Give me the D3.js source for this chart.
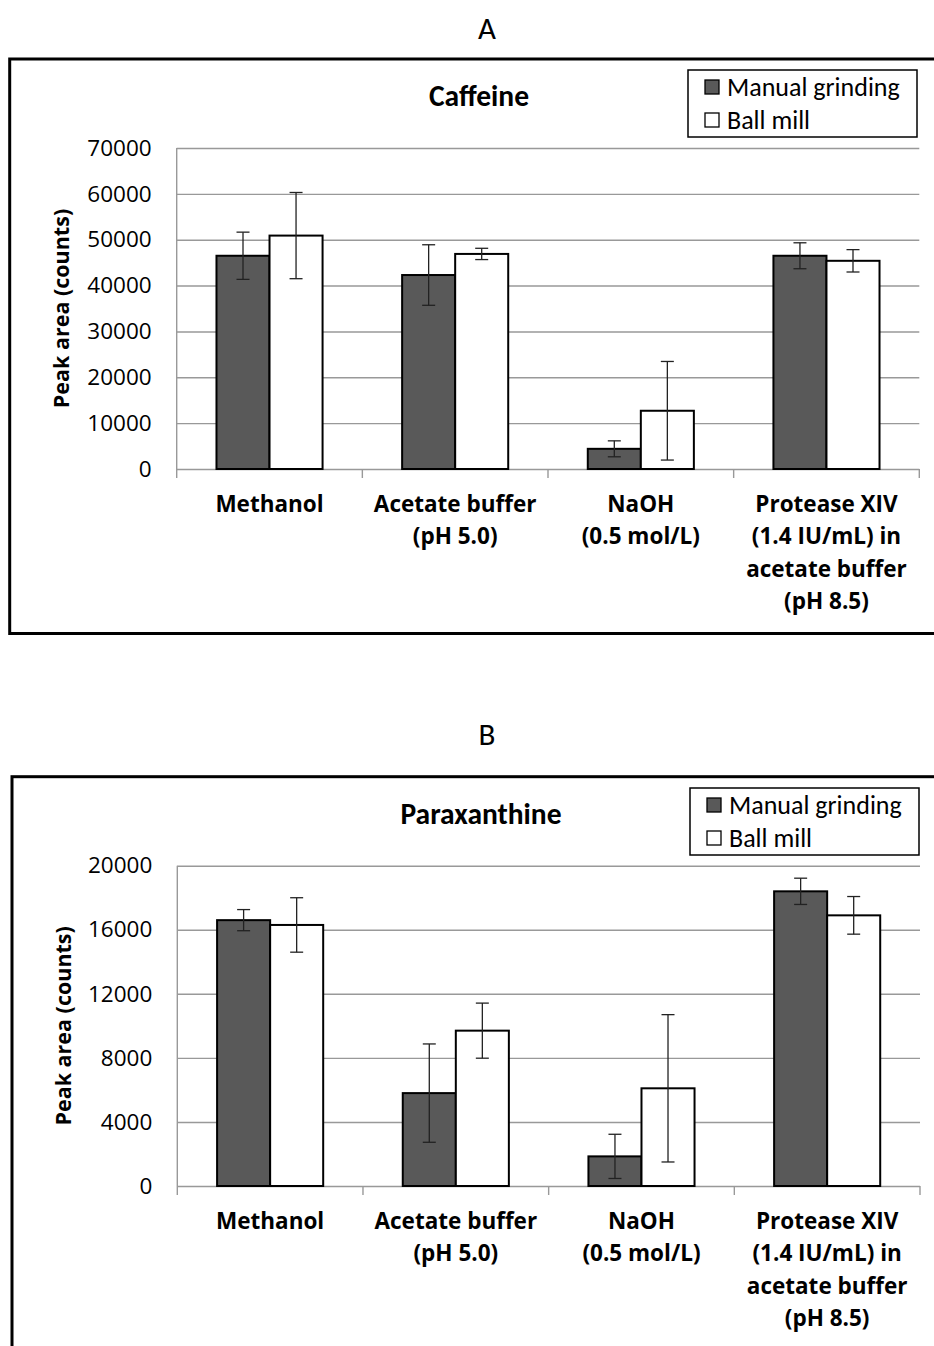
<!DOCTYPE html>
<html>
<head>
<meta charset="utf-8">
<script src="https://cdn.jsdelivr.net/npm/d3@7"></script>
<style>
  html, body { margin: 0; padding: 0; background: #fff; }
  svg { display: block; }
</style>
</head>
<body>
<svg id="fig" width="934" height="1346"></svg>
<script>
// Extraction conditions (x categories)
const categories = [
  "Methanol",
  "Acetate buffer (pH 5.0)",
  "NaOH (0.5 mol/L)",
  "Protease XIV (1.4 IU/mL) in acetate buffer (pH 8.5)"
];
const categoryLines = [
  ["Methanol"],
  ["Acetate buffer", "(pH 5.0)"],
  ["NaOH", "(0.5 mol/L)"],
  ["Protease XIV", "(1.4 IU/mL) in", "acetate buffer", "(pH 8.5)"]
];
const seriesNames = ["Manual grinding", "Ball mill"];

// Caffeine peak areas (counts) and standard deviations
const caffeineManual = [46500, 42300, 4400, 46500];
const caffeineManualSd = [5150, 6600, 1740, 2830];
const caffeineBall = [50900, 46900, 12700, 45400];
const caffeineBallSd = [9400, 1230, 10750, 2440];
const caffeineTicks = [0, 10000, 20000, 30000, 40000, 50000, 60000, 70000];

// Paraxanthine peak areas (counts) and standard deviations
const paraxManual = [16600, 5800, 1850, 18400];
const paraxManualSd = [660, 3070, 1380, 820];
const paraxBall = [16300, 9700, 6100, 16900];
const paraxBallSd = [1700, 1720, 4600, 1175];
const paraxTicks = [0, 4000, 8000, 12000, 16000, 20000];

const fills = ["#595959", "#ffffff"];
const svg = d3.select("#fig");
svg.append("rect").attr("width", 934).attr("height", 1346).attr("fill", "#fff");

const tickFont = "'Open Sans', sans-serif";
const calFont = "Carlito, Calibri, Lato, sans-serif";

function drawPanel(o) {
  const g = svg.append("g");

  // panel letter
  g.append("text")
    .attr("x", 487).attr("y", o.letterY)
    .attr("text-anchor", "middle")
    .attr("font-family", calFont).attr("font-size", 31)
    .attr("fill", "#000")
    .text(o.letter);

  // chart frame
  g.append("rect")
    .attr("x", o.frame.x).attr("y", o.frame.y)
    .attr("width", o.frame.w).attr("height", o.frame.h)
    .attr("fill", "none").attr("stroke", "#000").attr("stroke-width", 3);

  const x0 = d3.scaleBand().domain(categories).range([o.left, o.right]).padding(0);
  const x1 = d3.scaleBand().domain(seriesNames).range([0, x0.bandwidth()])
    .paddingInner(0).paddingOuter(0.75);
  const y = d3.scaleLinear().domain([0, o.max]).range([o.bottom, o.top]);

  // gridlines + tick labels
  const yAxis = g.append("g")
    .attr("transform", `translate(${o.left},0)`)
    .call(d3.axisLeft(y).tickValues(o.ticks).tickSize(-(o.right - o.left)).tickPadding(25)
      .tickFormat(d3.format("d")));
  yAxis.select(".domain").remove();
  yAxis.selectAll(".tick line").attr("stroke", "#999").attr("stroke-width", 1.4);
  yAxis.selectAll(".tick text")
    .attr("font-family", tickFont).attr("font-size", 22.5).attr("fill", "#000");

  // vertical axis line
  g.append("line")
    .attr("x1", o.left).attr("x2", o.left)
    .attr("y1", o.top).attr("y2", o.bottom + 9)
    .attr("stroke", "#999").attr("stroke-width", 1.4);

  // category separator ticks
  const bounds = categories.map(c => x0(c)).concat([o.right]);
  g.selectAll(".ctick").data(bounds.slice(1)).join("line")
    .attr("x1", d => d).attr("x2", d => d)
    .attr("y1", o.bottom).attr("y2", o.bottom + 9)
    .attr("stroke", "#999").attr("stroke-width", 1.4);

  // bars
  const rows = [];
  categories.forEach((c, i) => {
    o.values.forEach((vals, s) => {
      rows.push({ c, s: seriesNames[s], si: s, v: vals[i], sd: o.sds[s][i] });
    });
  });

  g.selectAll(".bar").data(rows).join("rect")
    .attr("x", d => x0(d.c) + x1(d.s))
    .attr("y", d => y(d.v))
    .attr("width", x1.bandwidth())
    .attr("height", d => y(0) - y(d.v))
    .attr("fill", d => fills[d.si])
    .attr("stroke", "#000").attr("stroke-width", 2);

  // error bars
  const eb = g.selectAll(".err").data(rows).join("g");
  const cx = d => x0(d.c) + x1(d.s) + x1.bandwidth() / 2;
  eb.append("line")
    .attr("x1", cx).attr("x2", cx)
    .attr("y1", d => y(d.v + d.sd)).attr("y2", d => y(d.v - d.sd))
    .attr("stroke", "#222").attr("stroke-width", 1.3);
  [1, -1].forEach(sign => {
    eb.append("line")
      .attr("x1", d => cx(d) - 6.5).attr("x2", d => cx(d) + 6.5)
      .attr("y1", d => y(d.v + sign * d.sd)).attr("y2", d => y(d.v + sign * d.sd))
      .attr("stroke", "#222").attr("stroke-width", 1.3);
  });

  // category labels
  categories.forEach((c, i) => {
    const t = g.append("text")
      .attr("text-anchor", "middle")
      .attr("font-family", tickFont).attr("font-weight", "bold")
      .attr("font-size", 22.5).attr("fill", "#000");
    categoryLines[i].forEach((line, k) => {
      t.append("tspan")
        .attr("x", x0(c) + x0.bandwidth() / 2)
        .attr("y", o.bottom + 43 + k * 32.3)
        .text(line);
    });
  });

  // y axis title
  g.append("text")
    .attr("transform", `translate(${o.yTitleX},${(o.top + o.bottom) / 2}) rotate(-90)`)
    .attr("text-anchor", "middle")
    .attr("font-family", tickFont).attr("font-weight", "bold")
    .attr("font-size", 21.5).attr("fill", "#000")
    .text("Peak area (counts)");

  // chart title
  g.append("text")
    .attr("x", o.titleX).attr("y", o.titleY)
    .attr("text-anchor", "middle")
    .attr("font-family", calFont).attr("font-weight", "bold")
    .attr("font-size", 29.5).attr("fill", "#000")
    .text(o.title);

  // legend
  const lg = g.append("g").attr("transform", `translate(${o.legend.x},${o.legend.y})`);
  lg.append("rect").attr("width", 229).attr("height", 67)
    .attr("fill", "#fff").attr("stroke", "#000").attr("stroke-width", 1.5);
  seriesNames.forEach((name, s) => {
    lg.append("rect")
      .attr("x", 17).attr("y", 10 + s * 33)
      .attr("width", 14).attr("height", 14)
      .attr("fill", fills[s]).attr("stroke", "#000").attr("stroke-width", 1.3);
    lg.append("text")
      .attr("x", 39).attr("y", 26 + s * 33)
      .attr("font-family", calFont).attr("font-size", 26).attr("fill", "#000")
      .text(name);
  });
}

drawPanel({
  letter: "A", letterY: 39,
  frame: { x: 9.7, y: 59, w: 940, h: 574.5 },
  left: 176.7, right: 919.3, top: 148, bottom: 469,
  max: 70000, ticks: caffeineTicks,
  values: [caffeineManual, caffeineBall],
  sds: [caffeineManualSd, caffeineBallSd],
  yTitleX: 69, title: "Caffeine", titleX: 479, titleY: 106,
  legend: { x: 688, y: 70 }
});

drawPanel({
  letter: "B", letterY: 745,
  frame: { x: 12, y: 776.7, w: 940, h: 600 },
  left: 177.3, right: 920, top: 865.7, bottom: 1186,
  max: 20000, ticks: paraxTicks,
  values: [paraxManual, paraxBall],
  sds: [paraxManualSd, paraxBallSd],
  yTitleX: 70.5, title: "Paraxanthine", titleX: 481, titleY: 824,
  legend: { x: 690, y: 788 }
});
</script>
</body>
</html>
